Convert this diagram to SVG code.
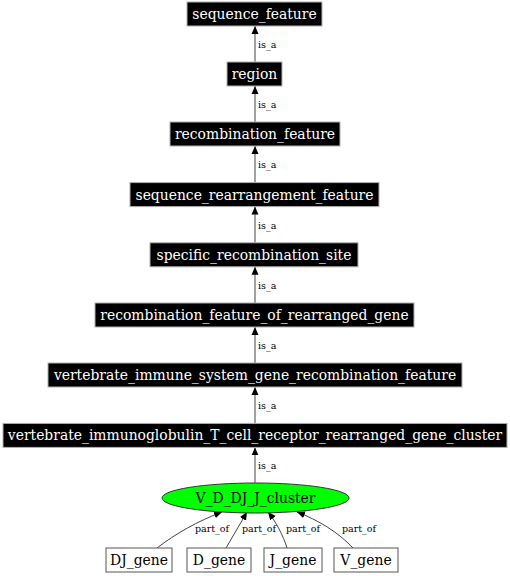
<svg xmlns="http://www.w3.org/2000/svg" width="510" height="576" viewBox="0 0 510 576">
<style>
.bk rect{fill:#000;stroke:#b0b0b0;stroke-width:1}
.bk text{fill:#fff;font-family:"DejaVu Serif",serif;font-size:13.9px;text-anchor:middle}
.wh rect{fill:#fff;stroke:#555;stroke-width:1}
.wh text{fill:#000;font-family:"DejaVu Serif",serif;font-size:13.9px;text-anchor:middle}
.el ellipse{fill:#00ff00;stroke:#333;stroke-width:1}
.el text{fill:#000;font-family:"DejaVu Serif",serif;font-size:13.9px;text-anchor:middle}
.edges path{fill:none;stroke:#444;stroke-width:1;marker-end:url(#ah)}
.lbl{font-family:"DejaVu Serif",serif;font-size:9.5px;fill:#000}
</style>
<defs>
<marker id="ah" markerWidth="8" markerHeight="8" refX="8" refY="3.5" orient="auto" markerUnits="userSpaceOnUse" viewBox="0 0 8 7">
<path d="M0,0 L8,3.5 L0,7 z" fill="#000"/>
</marker>
</defs>
<rect width="510" height="576" fill="#fff"/>
<g class="edges">
<path d="M255,62 L255,26"/>
<path d="M255,122 L255,86"/>
<path d="M255,182.6 L255,146"/>
<path d="M255,242.8 L255,206.6"/>
<path d="M255,303 L255,266.8"/>
<path d="M255,363 L255,327"/>
<path d="M255,423.4 L255,387"/>
<path d="M255,483 L255,447.4"/>
<path d="M157,548 C175,534 198,521 222,512"/>
<path d="M226,548 C233,536 240,524 247,512"/>
<path d="M287,548 C283,535 276,522 268,512"/>
<path d="M353,548 C338,532 318,520 297,512"/>
<text class="lbl" x="258" y="48">is_a</text>
<text class="lbl" x="258" y="108">is_a</text>
<text class="lbl" x="258" y="168.4">is_a</text>
<text class="lbl" x="258" y="228.6">is_a</text>
<text class="lbl" x="258" y="288.8">is_a</text>
<text class="lbl" x="258" y="349">is_a</text>
<text class="lbl" x="258" y="409.2">is_a</text>
<text class="lbl" x="258" y="469.4">is_a</text>
<text class="lbl" x="195" y="532">part_of</text>
<text class="lbl" x="242" y="532">part_of</text>
<text class="lbl" x="286" y="532">part_of</text>
<text class="lbl" x="342" y="532">part_of</text>
</g>
<g id="n0" class="bk"><rect x="187" y="2" width="135" height="24"/><text x="254.5" y="19">sequence_feature</text></g>
<g id="n1" class="bk"><rect x="227" y="62" width="55" height="24"/><text x="254.5" y="79">region</text></g>
<g id="n2" class="bk"><rect x="170" y="122" width="170" height="24"/><text x="255" y="139">recombination_feature</text></g>
<g id="n3" class="bk"><rect x="130" y="182.6" width="249" height="24"/><text x="254.5" y="199.6">sequence_rearrangement_feature</text></g>
<g id="n4" class="bk"><rect x="150" y="242.8" width="208" height="24"/><text x="254" y="259.8">specific_recombination_site</text></g>
<g id="n5" class="bk"><rect x="95" y="303" width="319" height="24"/><text x="254.5" y="320">recombination_feature_of_rearranged_gene</text></g>
<g id="n6" class="bk"><rect x="48" y="363" width="414" height="24"/><text x="255" y="380">vertebrate_immune_system_gene_recombination_feature</text></g>
<g id="n7" class="bk"><rect x="3" y="423.4" width="504" height="24"/><text x="255" y="440.4">vertebrate_immunoglobulin_T_cell_receptor_rearranged_gene_cluster</text></g>
<g id="n8" class="el"><ellipse cx="255.5" cy="498" rx="93.5" ry="15"/><text x="255.5" y="503">V_D_DJ_J_cluster</text></g>
<g id="n9" class="wh"><rect x="106" y="548" width="66" height="24"/><text x="139" y="565">DJ_gene</text></g>
<g id="n10" class="wh"><rect x="187" y="548" width="64" height="24"/><text x="219" y="565">D_gene</text></g>
<g id="n11" class="wh"><rect x="264" y="548" width="58" height="24"/><text x="293" y="565">J_gene</text></g>
<g id="n12" class="wh"><rect x="334" y="548" width="64" height="24"/><text x="366" y="565">V_gene</text></g>
</svg>
